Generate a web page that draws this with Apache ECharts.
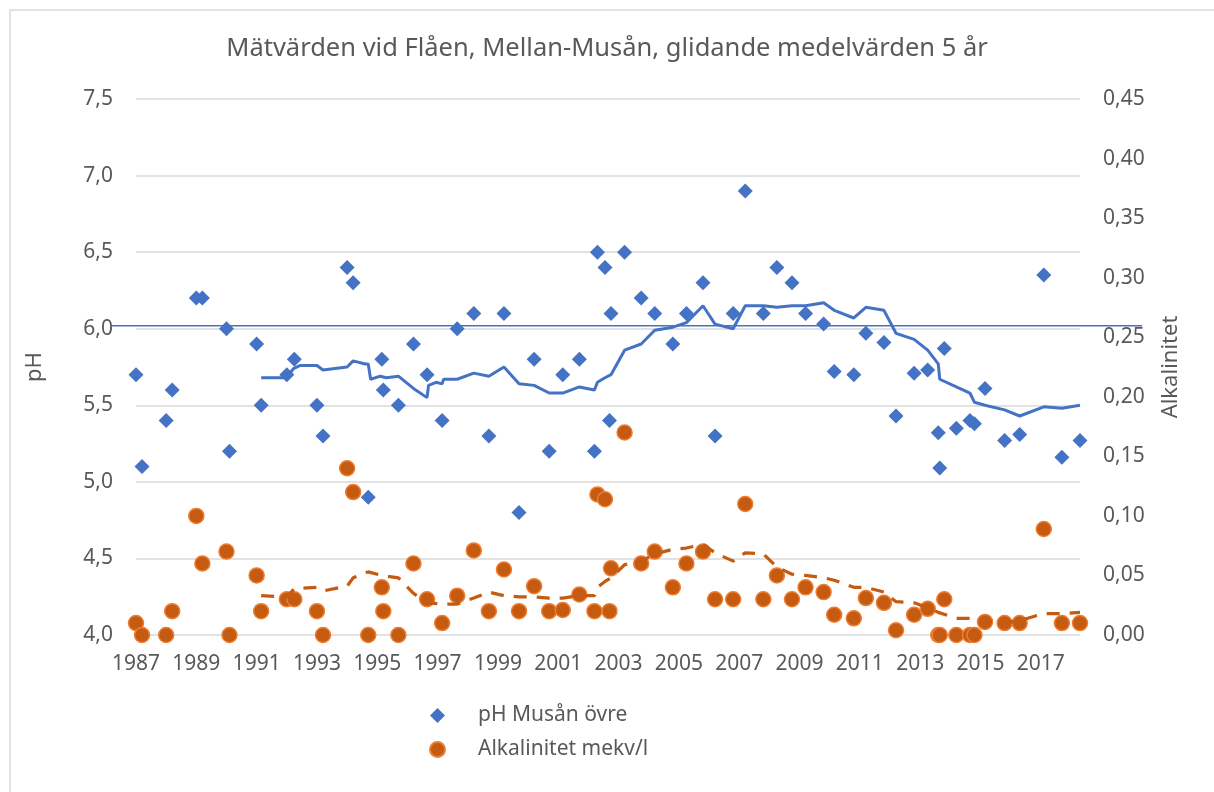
<!DOCTYPE html>
<html>
<head>
<meta charset="utf-8">
<script src="https://cdn.jsdelivr.net/npm/echarts@6/dist/echarts.min.js"></script>
<style>
html,body{margin:0;padding:0;background:#fff;}
#chart{width:1214px;height:792px;}
</style>
</head>
<body>
<div id="chart"></div>
<script>
// Measurement years (shared by pH and alkalinity)
const years = [1987.0,1987.2,1988.0,1988.2,1989.0,1989.2,1990.0,1990.1,1991.0,1991.15,
  1992.0,1992.25,1993.0,1993.2,1994.0,1994.2,1994.7,1995.15,1995.2,1995.7,
  1996.2,1996.65,1997.15,1997.65,1998.2,1998.7,1999.2,1999.7,2000.2,2000.7,
  2001.15,2001.7,2002.2,2002.3,2002.55,2002.7,2002.75,2003.2,2003.75,2004.2,
  2004.8,2005.25,2005.8,2006.2,2006.8,2007.2,2007.8,2008.25,2008.75,2009.2,
  2009.8,2010.15,2010.8,2011.2,2011.8,2012.2,2012.8,2013.25,2013.6,2013.65,
  2013.8,2014.2,2014.65,2014.8,2015.15,2015.8,2016.3,2017.1,2017.7,2018.3];
const phValues = [5.70,5.10,5.40,5.60,6.20,6.20,6.00,5.20,5.90,5.50,
  5.70,5.80,5.50,5.30,6.40,6.30,4.90,5.80,5.60,5.50,
  5.90,5.70,5.40,6.00,6.10,5.30,6.10,4.80,5.80,5.20,
  5.70,5.80,5.20,6.50,6.40,5.40,6.10,6.50,6.20,6.10,
  5.90,6.10,6.30,5.30,6.10,6.90,6.10,6.40,6.30,6.10,
  6.03,5.72,5.70,5.97,5.91,5.43,5.71,5.73,5.32,5.09,
  5.87,5.35,5.40,5.38,5.61,5.27,5.31,6.35,5.16,5.27];
const alkValues = [0.010,0.000,0.000,0.020,0.100,0.060,0.070,0.000,0.050,0.020,
  0.030,0.030,0.020,0.000,0.140,0.120,0.000,0.040,0.020,0.000,
  0.060,0.030,0.010,0.033,0.071,0.020,0.055,0.020,0.041,0.020,
  0.021,0.034,0.020,0.118,0.114,0.020,0.056,0.170,0.060,0.070,
  0.040,0.060,0.070,0.030,0.030,0.110,0.030,0.050,0.030,0.040,
  0.036,0.017,0.014,0.031,0.027,0.004,0.017,0.022,0.000,0.000,
  0.030,0.000,0.000,0.000,0.011,0.010,0.010,0.089,0.010,0.010];

// 5-year moving averages
const maPhYears = [1991.15,1992.0,1992.22,1992.45,1993.0,1993.2,1994.0,1994.2,1994.6,1994.7,
  1994.78,1995.1,1995.3,1995.7,1996.2,1996.65,1996.7,1996.95,1997.15,1997.2,
  1997.65,1998.2,1998.7,1999.2,1999.7,2000.2,2000.7,2001.15,2001.7,2002.2,
  2002.3,2002.55,2002.75,2003.2,2003.75,2004.2,2004.8,2005.25,2005.8,2006.2,
  2006.8,2007.2,2007.8,2008.25,2008.75,2009.2,2009.8,2010.15,2010.8,2011.2,
  2011.8,2012.2,2012.8,2013.25,2013.6,2013.65,2014.2,2014.65,2014.8,2015.15,
  2015.8,2016.3,2017.1,2017.7,2018.3];
const maPhValues = [5.68,5.68,5.74,5.76,5.76,5.73,5.75,5.79,5.77,5.77,
  5.67,5.69,5.68,5.69,5.61,5.55,5.63,5.65,5.64,5.67,
  5.67,5.71,5.69,5.75,5.64,5.63,5.58,5.58,5.62,5.60,
  5.65,5.68,5.70,5.86,5.90,5.99,6.01,6.04,6.15,6.03,
  6.00,6.15,6.15,6.14,6.15,6.15,6.17,6.12,6.07,6.14,
  6.12,5.97,5.93,5.86,5.77,5.67,5.62,5.58,5.52,5.50,
  5.47,5.43,5.49,5.48,5.50];
const maAlkYears = [1991.15,1992.0,1992.25,1993.0,1993.2,1994.0,1994.2,1994.7,1995.15,1995.2,
  1995.7,1996.2,1996.65,1997.15,1997.65,1998.2,1998.7,1999.2,1999.7,2000.2,
  2000.7,2001.15,2001.7,2002.2,2002.3,2002.55,2002.75,2003.2,2003.75,2004.2,
  2004.8,2005.25,2005.8,2006.2,2006.8,2007.2,2007.8,2008.25,2008.75,2009.2,
  2009.8,2010.15,2010.8,2011.2,2011.8,2012.2,2012.8,2013.25,2013.6,2014.2,
  2014.65,2014.8,2015.15,2015.8,2016.3,2017.1,2017.7,2018.3];
const maAlkValues = [0.033,0.032,0.039,0.040,0.037,0.041,0.048,0.053,0.050,0.049,
  0.048,0.035,0.027,0.026,0.026,0.031,0.036,0.033,0.032,0.032,
  0.031,0.031,0.033,0.033,0.040,0.045,0.048,0.059,0.062,0.068,
  0.072,0.073,0.076,0.069,0.062,0.069,0.068,0.057,0.051,0.050,
  0.048,0.046,0.040,0.040,0.036,0.028,0.027,0.023,0.019,0.014,
  0.014,0.012,0.012,0.010,0.012,0.018,0.018,0.019];

const xMin = 1987, xMax = 2018.3, xStep = 2;
const phMin = 4, phMax = 7.5, phStep = 0.5;
const alkMin = 0, alkMax = 0.45, alkStep = 0.05;
const phLimit = 6.02;

const FONT = 'Noto Sans';
const GREY = '#595959';
const chart = echarts.init(document.getElementById('chart'));
const zip = (a, b) => a.map((v, i) => [v, b[i]]);

chart.setOption({
  animation: false,
  backgroundColor: '#fff',
  title: {
    text: 'Mätvärden vid Flåen, Mellan-Musån, glidande medelvärden 5 år',
    left: 'center', top: 31,
    textStyle: {fontFamily: FONT, fontSize: 25.5, fontWeight: 'normal', color: GREY}
  },
  legend: {
    orient: 'vertical', left: 424, top: 700, itemGap: 13,
    itemWidth: 15, itemHeight: 15,
    textStyle: {fontFamily: FONT, fontSize: 21, color: GREY, padding: [0, 0, 0, 28]},
    data: [{name: 'pH Musån övre', icon: 'diamond'}, {name: 'Alkalinitet mekv/l', icon: 'circle'}]
  },
  grid: {left: 136, right: 134, top: 99, bottom: 157},
  xAxis: {
    type: 'value', min: xMin, max: xMax, interval: xStep,
    axisLine: {show: false}, axisTick: {show: false}, splitLine: {show: false},
    axisLabel: {
      fontFamily: FONT, fontSize: 21, color: GREY, margin: 19,
      showMaxLabel: false,
      formatter: v => (Math.abs((v - xMin) % xStep) < 1e-6 ? String(Math.round(v)) : '')
    }
  },
  yAxis: [{
    type: 'value', min: phMin, max: phMax, interval: phStep,
    name: 'pH', nameLocation: 'middle', nameRotate: 90, nameGap: 90,
    nameTextStyle: {fontFamily: FONT, fontSize: 22, color: GREY},
    axisLine: {show: false}, axisTick: {show: false},
    splitLine: {lineStyle: {color: '#D9D9D9', width: 1.5}},
    axisLabel: {fontFamily: FONT, fontSize: 21, color: GREY, margin: 23,
      formatter: v => v.toFixed(1).replace('.', ',')}
  }, {
    type: 'value', min: alkMin, max: alkMax, interval: alkStep,
    name: 'Alkalinitet', nameLocation: 'middle', nameRotate: 90, nameGap: 80,
    nameTextStyle: {fontFamily: FONT, fontSize: 22, color: GREY},
    axisLine: {show: false}, axisTick: {show: false}, splitLine: {show: false},
    axisLabel: {fontFamily: FONT, fontSize: 21, color: GREY, margin: 23,
      formatter: v => v.toFixed(2).replace('.', ',')}
  }],
  series: [{
    name: 'pH Musån övre', type: 'scatter', yAxisIndex: 0,
    symbol: 'diamond', symbolSize: 15,
    itemStyle: {color: '#4472C4', opacity: 1},
    data: zip(years, phValues), z: 3
  }, {
    name: 'Alkalinitet mekv/l', type: 'scatter', yAxisIndex: 1,
    symbol: 'circle', symbolSize: 15,
    itemStyle: {color: '#C55A11', borderColor: '#ED7D31', borderWidth: 1.5, opacity: 1},
    data: zip(years, alkValues), z: 3
  }, {
    name: 'ma-ph', type: 'line', yAxisIndex: 0, showSymbol: false, symbol: 'none',
    lineStyle: {color: '#4472C4', width: 3}, data: zip(maPhYears, maPhValues), z: 4
  }, {
    name: 'ma-alk', type: 'line', yAxisIndex: 1, showSymbol: false, symbol: 'none',
    lineStyle: {color: '#C55A11', width: 3.2, type: [13, 10]}, data: zip(maAlkYears, maAlkValues), z: 4
  }]
});

function drawExtras() {
  const yLim = chart.convertToPixel({yAxisIndex: 0}, phLimit);
  chart.setOption({
    graphic: [
      {type: 'rect', shape: {x: 10, y: 10, width: 1220, height: 800},
        style: {fill: 'none', stroke: '#D9D9D9', lineWidth: 1.5}, silent: true},
      {type: 'line', shape: {x1: 110, y1: yLim, x2: 1142, y2: yLim},
        style: {stroke: '#4472C4', lineWidth: 1.5}, z: 10}
    ]
  });
}
drawExtras();
</script>
</body>
</html>
